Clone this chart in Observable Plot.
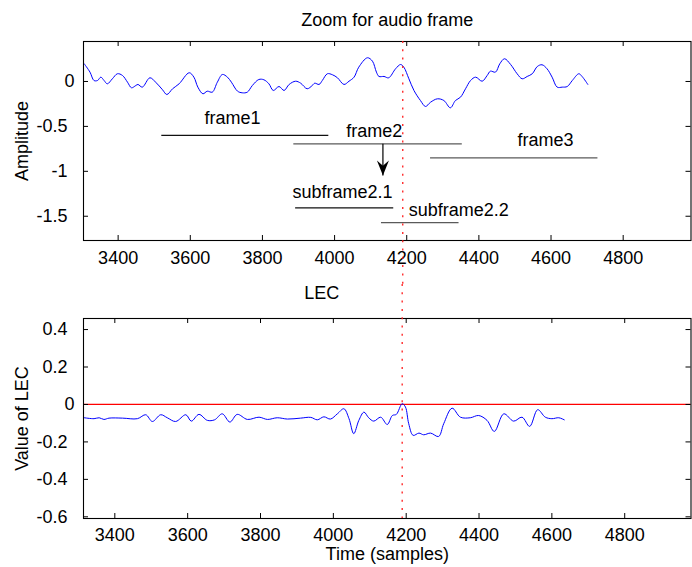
<!DOCTYPE html>
<html><head><meta charset="utf-8">
<script src="https://cdn.jsdelivr.net/npm/d3@7"></script>
<script src="https://cdn.jsdelivr.net/npm/@observablehq/plot@0.6"></script>
<style>
body{margin:0;background:#fff;}
#chart{width:692px;height:567px;}
#chart svg{display:block;}
</style></head><body><div id="chart"></div>
<script>
// ---- data ----
const audioSample = [3306,3322,3333,3343,3352,3361,3370,3384,3398,3412,3426,3437,3449,3455,3467,3488,3504,3523,3535,3551,3569,3597,3610,3621,3635,3647,3661,3675,3689,3703,3714,3731,3744,3758,3772,3790,3804,3818,3830,3846,3860,3874,3892,3906,3924,3938,3945,3957,3966,3980,3994,4008,4026,4040,4054,4067,4091,4105,4116,4123,4137,4150,4169,4183,4192,4206,4220,4238,4252,4266,4285,4303,4321,4335,4349,4363,4377,4391,4409,4423,4432,4446,4458,4471,4488,4506,4520,4534,4548,4562,4575,4589,4603,4617,4631,4645,4659,4677,4686,4702];
const audioAmp = [0.197,0.104,0.011,0.011,0.048,0.011,-0.026,0.030,0.086,0.067,-0.008,-0.070,-0.045,-0.033,-0.063,0.041,-0.008,-0.092,-0.145,-0.081,-0.026,0.097,0.048,-0.063,-0.137,-0.108,-0.119,-0.008,0.078,0.048,-0.008,-0.108,-0.126,-0.119,-0.045,0.022,0.019,-0.026,-0.100,-0.056,-0.100,-0.033,0.003,-0.019,-0.081,-0.045,-0.019,-0.033,0.011,0.086,0.075,0.041,-0.033,0.003,0.048,0.159,0.264,0.226,0.104,0.056,0.056,0.041,0.141,0.189,0.159,0.030,-0.100,-0.212,-0.278,-0.231,-0.193,-0.212,-0.293,-0.212,-0.175,-0.081,0.011,0.048,0.003,0.067,0.115,0.104,0.197,0.253,0.189,0.086,0.030,0.056,0.086,0.167,0.186,0.141,0.048,-0.063,-0.063,-0.056,0.011,0.086,0.056,-0.033];
const lecSample = [3316,3343,3357,3370,3384,3421,3462,3485,3503,3526,3544,3567,3595,3610,3631,3654,3674,3695,3716,3736,3764,3796,3819,3846,3874,3910,3938,3956,3974,3992,4011,4029,4043,4056,4070,4084,4097,4111,4130,4148,4162,4173,4189,4198,4207,4219,4235,4248,4267,4289,4303,4326,4349,4376,4399,4422,4442,4468,4495,4518,4539,4561,4582,4600,4619,4634];
const lecValue = [-0.071,-0.076,-0.071,-0.080,-0.073,-0.073,-0.076,-0.055,-0.091,-0.055,-0.071,-0.091,-0.055,-0.089,-0.053,-0.085,-0.082,-0.050,-0.094,-0.053,-0.080,-0.068,-0.080,-0.071,-0.078,-0.073,-0.069,-0.082,-0.066,-0.078,-0.050,-0.023,-0.076,-0.156,-0.085,-0.041,-0.071,-0.089,-0.068,-0.107,-0.059,-0.053,0.004,-0.014,-0.103,-0.165,-0.153,-0.162,-0.153,-0.171,-0.103,-0.020,-0.068,-0.071,-0.059,-0.085,-0.144,-0.050,-0.089,-0.068,-0.117,-0.028,-0.068,-0.076,-0.071,-0.082];

const xTicks = [3400,3600,3800,4000,4200,4400,4600,4800];
const ampTicks = [0,-0.5,-1,-1.5];
const lecTicks = [0.4,0.2,0,-0.2,-0.4,-0.6];

const frameNames = ["frame1","frame2","frame3","subframe2.1","subframe2.2"];
const frameStart = [3521,3887,4266,3892,4130];
const frameEnd   = [3984,4354,4730,4164,4345];
const frameLevel = [-0.601,-0.694,-0.850,-1.406,-1.570];
const labelSample = [3717,4110,4585,4022,4344];
const labelLevel  = [-0.412,-0.549,-0.657,-1.230,-1.433];

const arrowSample = 4134, arrowFrom = -0.694, arrowTo = -1.047;
const markerSample = 4189;

const titleTop = "Zoom for audio frame";
const titleBottom = "LEC";
const yLabelTop = "Amplitude";
const yLabelBottom = "Value of LEC";
const xLabel = "Time (samples)";

// ---- tables ----
const audio = audioSample.map((s,i)=>({s, v: audioAmp[i]}));
const lec = lecSample.map((s,i)=>({s, v: lecValue[i]}));
const frames = frameNames.map((name,i)=>({name, x1: frameStart[i], x2: frameEnd[i], y: frameLevel[i], lx: labelSample[i], ly: labelLevel[i], i}));
const lineColor = i => (i===0 || i===3) ? "#111" : "#5a5a5a";

// ---- styling ----
const FONT = "'Liberation Sans', Arial, Helvetica, sans-serif";
const FS = 18;
const W = 692;
const ML = 83, MR = 1.5;
const FW = W - ML - MR;
const TICK = 5;
const fmt = d => String(d);
const dotted = {stroke: "#ff1a1a", strokeWidth: 1.3, strokeDasharray: "2,6.3"};

const headShape = {
  draw(ctx, l) {
    ctx.moveTo(0, -l);
    ctx.lineTo(6, 0);
    ctx.lineTo(0, -l * 0.35);
    ctx.lineTo(-6, 0);
    ctx.closePath();
  }
};

function frameTicks(yTicks, FH) {
  return [
    Plot.ruleX(xTicks, {x: d=>d, insetTop: FH - TICK, stroke: "black"}),
    Plot.ruleX(xTicks, {x: d=>d, insetBottom: FH - TICK, stroke: "black"}),
    Plot.ruleY(yTicks, {y: d=>d, insetRight: FW - TICK, stroke: "black"}),
    Plot.ruleY(yTicks, {y: d=>d, insetLeft: FW - TICK, stroke: "black"})
  ];
}
function yLabels(ticks) {
  return [
    Plot.axisY(ticks.filter(d=>d===0), {anchor: "left", tickSize: 0, tickPadding: 9, tickFormat: fmt, fontSize: FS, label: null}),
    Plot.axisY(ticks.filter(d=>d!==0), {anchor: "left", tickSize: 0, tickPadding: 16, tickFormat: fmt, fontSize: FS, label: null})
  ];
}

// ---- top plot ----
const H1 = 284, MT1 = 41, MB1 = 44, FH1 = H1 - MT1 - MB1;
const topPlot = Plot.plot({
  width: W, height: H1,
  marginLeft: ML, marginRight: MR, marginTop: MT1, marginBottom: MB1,
  style: {fontFamily: FONT, fontSize: FS + "px", background: "white", color: "black", overflow: "visible"},
  x: {domain: [3304, 4988], axis: null},
  y: {domain: [-1.77, 0.445], axis: null},
  marks: [
    Plot.line(audio, {x: "s", y: "v", stroke: "#0000ff", strokeWidth: 1, curve: "catmull-rom"}),
    Plot.ruleY(frames, {x1: "x1", x2: "x2", y: "y", stroke: d => lineColor(d.i), strokeWidth: 1.2}),
    Plot.text(frames, {x: "lx", y: "ly", text: "name", fontSize: FS, fill: "black", textAnchor: "middle", lineAnchor: "middle"}),
    Plot.link([arrowSample], {x1: d=>d, x2: d=>d, y1: ()=>arrowFrom, y2: ()=>arrowTo, stroke: "black", strokeWidth: 1.2}),
    Plot.vector([arrowSample], {x: d=>d, y: ()=>arrowTo, length: 15, rotate: 180, anchor: "end", shape: headShape, fill: "black", stroke: "none"}),
    Plot.frame({stroke: "black", strokeWidth: 1.1}),
    ...frameTicks(ampTicks, FH1),
    Plot.axisX(xTicks, {anchor: "bottom", tickSize: 0, tickPadding: 11, tickFormat: fmt, fontSize: FS, label: null}),
    ...yLabels(ampTicks),
    Plot.text([yLabelTop], {frameAnchor: "left", dx: -61, rotate: -90, fontSize: FS, fill: "black", textAnchor: "middle", lineAnchor: "middle"}),
    Plot.text([titleTop], {frameAnchor: "top", dy: -21, fontSize: FS, fill: "black", textAnchor: "middle", lineAnchor: "middle"}),
    Plot.ruleX([markerSample], {x: d=>d, ...dotted, insetBottom: -MB1})
  ]
});

// ---- bottom plot ----
const H2 = 283, MT2 = 34, MB2 = 49, FH2 = H2 - MT2 - MB2;
const bottomPlot = Plot.plot({
  width: W, height: H2,
  marginLeft: ML, marginRight: MR, marginTop: MT2, marginBottom: MB2,
  style: {fontFamily: FONT, fontSize: FS + "px", background: "white", color: "black", overflow: "visible"},
  x: {domain: [3314, 4982], axis: null},
  y: {domain: [-0.609, 0.459], axis: null},
  marks: [
    Plot.ruleY([0], {y: d=>d, stroke: "#ff0000", strokeWidth: 1.3}),
    Plot.line(lec, {x: "s", y: "v", stroke: "#0000ff", strokeWidth: 1, curve: "catmull-rom"}),
    Plot.frame({stroke: "black", strokeWidth: 1.1}),
    ...frameTicks(lecTicks, FH2),
    Plot.axisX(xTicks, {anchor: "bottom", tickSize: 0, tickPadding: 10, tickFormat: fmt, fontSize: FS, label: null}),
    ...yLabels(lecTicks),
    Plot.text([yLabelBottom], {frameAnchor: "left", dx: -61, rotate: -90, fontSize: FS, fill: "black", textAnchor: "middle", lineAnchor: "middle"}),
    Plot.text([titleBottom], {frameAnchor: "top", dx: -65.5, dy: -25, fontSize: FS, fill: "black", textAnchor: "middle", lineAnchor: "middle"}),
    Plot.text([xLabel], {frameAnchor: "bottom", dy: 36, fontSize: FS, fill: "black", textAnchor: "middle", lineAnchor: "middle"}),
    Plot.ruleX([markerSample], {x: d=>d, ...dotted, insetTop: -MT2})
  ]
});

const chart = document.getElementById("chart");
chart.appendChild(topPlot);
chart.appendChild(bottomPlot);
</script>
</body></html>
